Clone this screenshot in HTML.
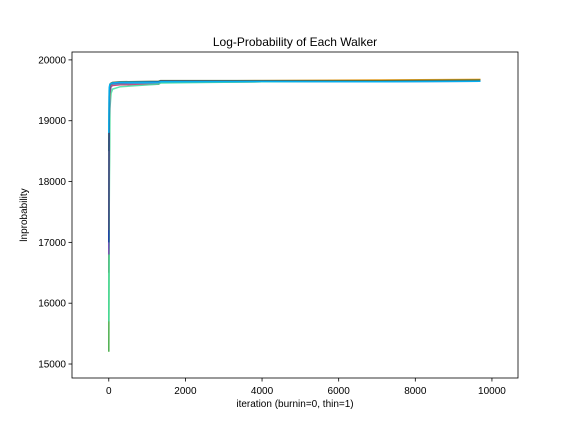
<!DOCTYPE html>
<html><head><meta charset="utf-8"><style>
body{margin:0;background:#fff}
svg{display:block;font-family:"Liberation Sans","DejaVu Sans",sans-serif}
</style></head><body>
<svg id="c" width="576" height="432">
<rect width="576" height="432" fill="#fff"/>
<g id="plot"></g>
</svg>
<script>
const xTicks=[0,2000,4000,6000,8000,10000];
const yTicks=[15000,16000,17000,18000,19000,20000];
const walkerColors=["#d62060","#2ca02c","#1f77b4","#17becf","#40e0a0","#7f3fbf","#ff9900","#556b2f","#1040a0","#00bfff"];
const walkerIters=[0,10,30,60,100,300,1300,1350,4000,7000,9700];
const walkerValues=[
[16500,19000,19500,19560,19580,19590,19600,19630,19640,19650,19660],
[15200,18000,19400,19600,19620,19630,19640,19650,19650,19660,19670],
[16900,19200,19550,19600,19610,19620,19630,19640,19650,19650,19650],
[17700,19100,19500,19580,19600,19610,19620,19630,19640,19650,19660],
[15700,17500,19200,19450,19520,19560,19600,19620,19640,19650,19660],
[16800,19000,19450,19580,19610,19620,19630,19640,19650,19650,19660],
[17200,19300,19550,19600,19620,19630,19640,19650,19660,19670,19680],
[18500,19500,19600,19620,19630,19640,19650,19660,19660,19660,19670],
[17000,19400,19580,19610,19620,19630,19640,19650,19650,19640,19650],
[18800,19550,19600,19610,19620,19630,19635,19640,19645,19640,19650]
];
const X0=72,X1=518,Y0=52,Y1=378;
const xmin=-960,xmax=10680,ymin=14770,ymax=20130;
const sx=v=>X0+(v-xmin)/(xmax-xmin)*(X1-X0);
const sy=v=>Y1-(v-ymin)/(ymax-ymin)*(Y1-Y0);
const NS="http://www.w3.org/2000/svg";
const svg=document.getElementById('c');
function mk(t,a,p){const e=document.createElementNS(NS,t);for(const k in a)e.setAttribute(k,a[k]);(p||svg).appendChild(e);return e;}
const plot=document.getElementById('plot');
walkerValues.forEach((vals,i)=>{
 const pts=vals.map((v,j)=>sx(walkerIters[j]).toFixed(1)+","+sy(v).toFixed(1)).join(" ");
 const l=mk('polyline',{points:pts,fill:'none',stroke:walkerColors[i],'stroke-width':1.5,'stroke-opacity':0.85},plot);
 
 
});
const fr=mk('rect',{x:X0,y:Y0,width:X1-X0,height:Y1-Y0,fill:'none',stroke:'#000','stroke-width':0.8});


xTicks.forEach(t=>{
 const x=sx(t);
 mk('line',{x1:x,x2:x,y1:Y1,y2:Y1+3.5,stroke:'#000','stroke-width':0.8});
 const tx=mk('text',{x:x,y:Y1+16,'font-size':10,'text-anchor':'middle'});tx.textContent=t;
 
 
});
yTicks.forEach(t=>{
 const y=sy(t);
 mk('line',{x1:X0-3.5,x2:X0,y1:y,y2:y,stroke:'#000','stroke-width':0.8});
 const tx=mk('text',{x:X0-6,y:y+3.5,'font-size':10,'text-anchor':'end'});tx.textContent=t;
 
 
});
let t=mk('text',{x:(X0+X1)/2,y:46,'font-size':12,'text-anchor':'middle'});t.textContent="Log-Probability of Each Walker";


t=mk('text',{x:(X0+X1)/2,y:407,'font-size':10,'text-anchor':'middle'});t.textContent="iteration (burnin=0, thin=1)";


t=mk('text',{x:27,y:(Y0+Y1)/2,'font-size':10,'text-anchor':'middle',transform:'rotate(-90 27 '+(Y0+Y1)/2+')'});t.textContent="lnprobability";


</script>
</body></html>
